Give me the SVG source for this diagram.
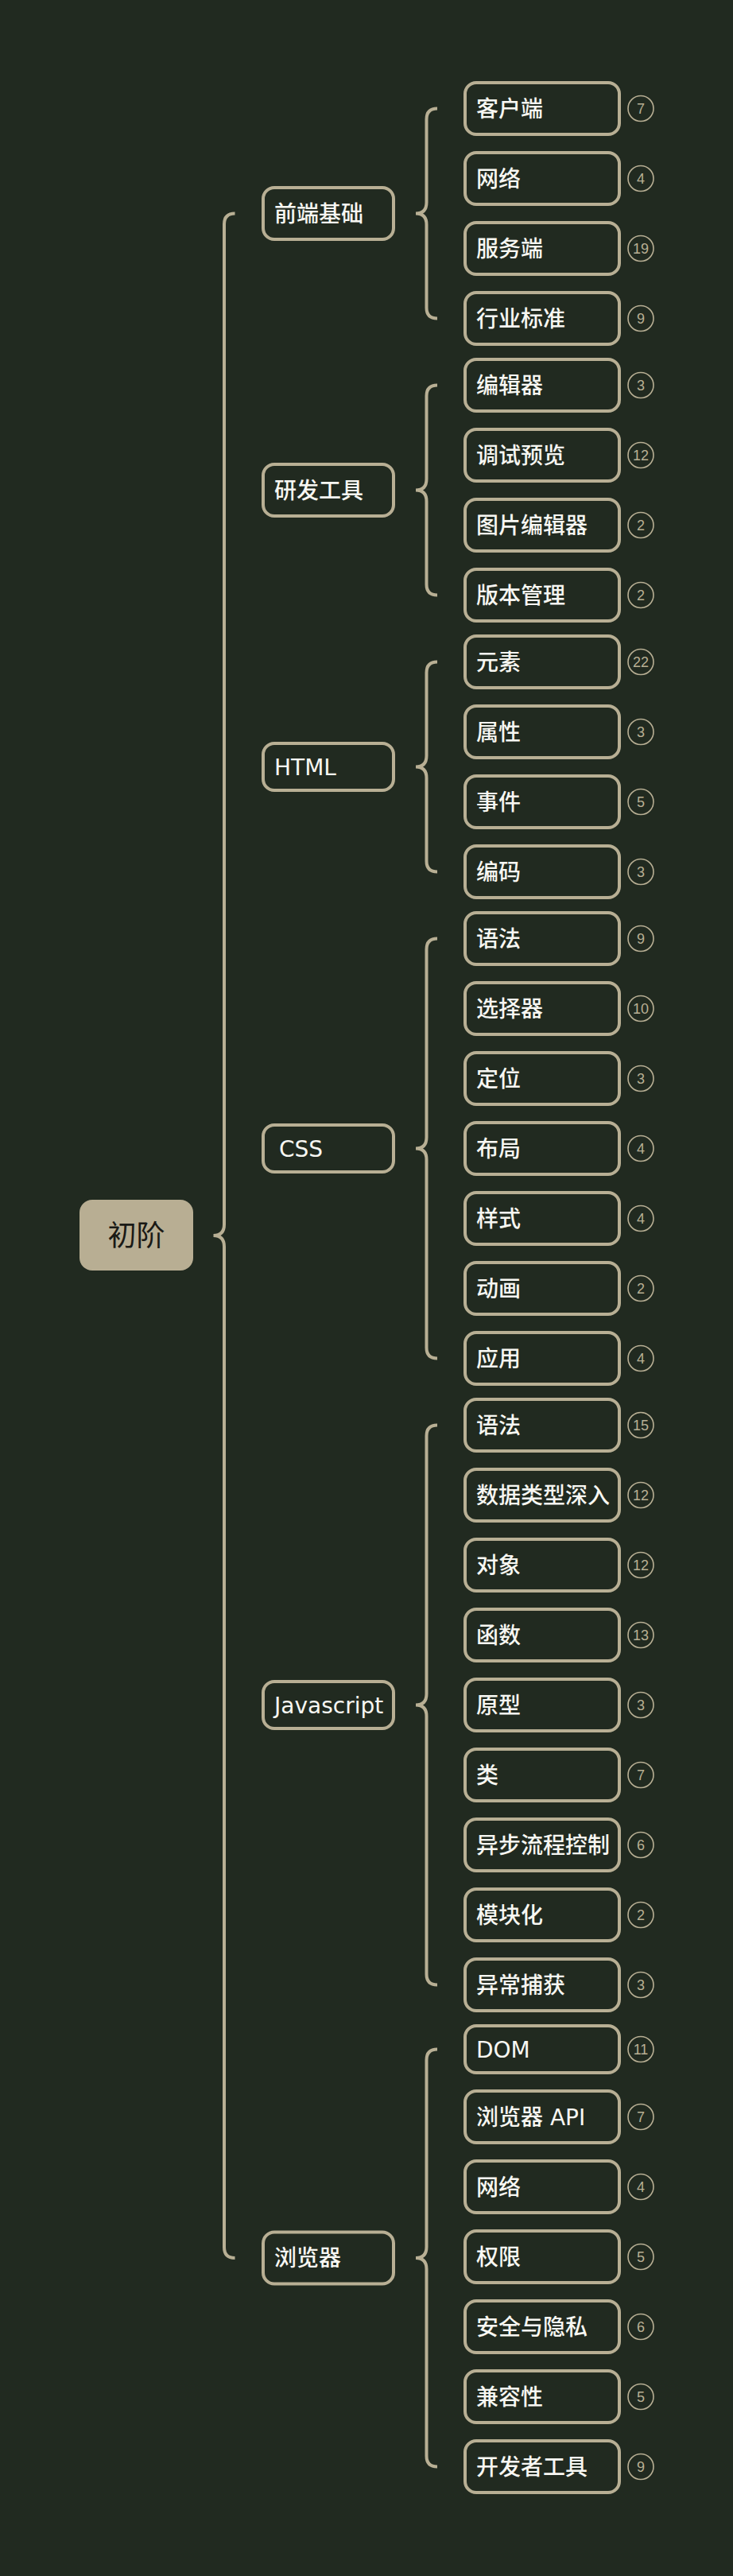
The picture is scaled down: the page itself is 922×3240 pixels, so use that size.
<svg xmlns="http://www.w3.org/2000/svg" width="922" height="3240" viewBox="0 0 922 3240">
<style>
.bg{fill:#212a20}
.box{fill:#212a20;stroke:#b8af94;stroke-width:4}
.br{fill:none;stroke:#b8af94;stroke-width:4;stroke-linecap:butt}
.t{font-family:"DejaVu Sans","Noto Sans CJK SC",sans-serif;font-size:28px;font-weight:500;fill:#f7f7f2}
.cc{fill:none;stroke:#b8af94;stroke-width:1.6}
.n{font-family:"Liberation Sans",Arial,sans-serif;font-size:18px;fill:#b8af94;text-anchor:middle}
.root{fill:#b8ae93}
.rt{font-family:"Noto Sans CJK SC",sans-serif;font-size:36px;fill:#1a1a16;text-anchor:middle}
</style>
<rect class="bg" x="0" y="0" width="922" height="3240"/>
<g id="connectors">
<path class="br" d="M295.5,268.5 Q282,268.5 282,282 L282,1540 Q282,1554 268.5,1554 Q282,1554 282,1568 L282,2826.5 Q282,2840 295.5,2840"/>
<path class="br" d="M550,136.5 Q536.5,136.5 536.5,150 L536.5,254.5 Q536.5,268.5 523,268.5 Q536.5,268.5 536.5,282.5 L536.5,387 Q536.5,400.5 550,400.5"/>
<path class="br" d="M550,484.5 Q536.5,484.5 536.5,498 L536.5,602.5 Q536.5,616.5 523,616.5 Q536.5,616.5 536.5,630.5 L536.5,735 Q536.5,748.5 550,748.5"/>
<path class="br" d="M550,832.5 Q536.5,832.5 536.5,846 L536.5,950.5 Q536.5,964.5 523,964.5 Q536.5,964.5 536.5,978.5 L536.5,1083 Q536.5,1096.5 550,1096.5"/>
<path class="br" d="M550,1180.5 Q536.5,1180.5 536.5,1194 L536.5,1430.5 Q536.5,1444.5 523,1444.5 Q536.5,1444.5 536.5,1458.5 L536.5,1695 Q536.5,1708.5 550,1708.5"/>
<path class="br" d="M550,1792.5 Q536.5,1792.5 536.5,1806 L536.5,2130.5 Q536.5,2144.5 523,2144.5 Q536.5,2144.5 536.5,2158.5 L536.5,2483 Q536.5,2496.5 550,2496.5"/>
<path class="br" d="M550,2577.5 Q536.5,2577.5 536.5,2591 L536.5,2826 Q536.5,2840 523,2840 Q536.5,2840 536.5,2854 L536.5,3089 Q536.5,3102.5 550,3102.5"/>
</g>
<g id="root">
<rect class="root" x="100" y="1509" width="143" height="89" rx="16"/>
<text class="rt" x="171.5" y="1567">初阶</text>
</g>
<g id="cat-qianduan"><rect class="box" x="331" y="236" width="164" height="65" rx="14"/><text class="t" x="345" y="278.5">前端基础</text></g>
<g id="cat-yanfa"><rect class="box" x="331" y="584" width="164" height="65" rx="14"/><text class="t" x="345" y="626.5">研发工具</text></g>
<g id="cat-html"><rect class="box" x="331" y="935" width="164" height="59" rx="14"/><text class="t" x="345" y="974.5">HTML</text></g>
<g id="cat-css"><rect class="box" x="331" y="1415" width="164" height="59" rx="14"/><text class="t" x="351" y="1454.5">CSS</text></g>
<g id="cat-js"><rect class="box" x="331" y="2115" width="164" height="59" rx="14"/><text class="t" x="345" y="2154.5">Javascript</text></g>
<g id="cat-browser"><rect class="box" x="331" y="2807.5" width="164" height="65" rx="14"/><text class="t" x="345" y="2850">浏览器</text></g>
<g id="l1"><rect class="box" x="585" y="104" width="194" height="65" rx="14"/><text class="t" x="599" y="146.5">客户端</text><circle class="cc" cx="806" cy="136.5" r="16"/><text class="n" x="806" y="143">7</text></g>
<g id="l2"><rect class="box" x="585" y="192" width="194" height="65" rx="14"/><text class="t" x="599" y="234.5">网络</text><circle class="cc" cx="806" cy="224.5" r="16"/><text class="n" x="806" y="231">4</text></g>
<g id="l3"><rect class="box" x="585" y="280" width="194" height="65" rx="14"/><text class="t" x="599" y="322.5">服务端</text><circle class="cc" cx="806" cy="312.5" r="16"/><text class="n" x="806" y="319">19</text></g>
<g id="l4"><rect class="box" x="585" y="368" width="194" height="65" rx="14"/><text class="t" x="599" y="410.5">行业标准</text><circle class="cc" cx="806" cy="400.5" r="16"/><text class="n" x="806" y="407">9</text></g>
<g id="l5"><rect class="box" x="585" y="452" width="194" height="65" rx="14"/><text class="t" x="599" y="494.5">编辑器</text><circle class="cc" cx="806" cy="484.5" r="16"/><text class="n" x="806" y="491">3</text></g>
<g id="l6"><rect class="box" x="585" y="540" width="194" height="65" rx="14"/><text class="t" x="599" y="582.5">调试预览</text><circle class="cc" cx="806" cy="572.5" r="16"/><text class="n" x="806" y="579">12</text></g>
<g id="l7"><rect class="box" x="585" y="628" width="194" height="65" rx="14"/><text class="t" x="599" y="670.5">图片编辑器</text><circle class="cc" cx="806" cy="660.5" r="16"/><text class="n" x="806" y="667">2</text></g>
<g id="l8"><rect class="box" x="585" y="716" width="194" height="65" rx="14"/><text class="t" x="599" y="758.5">版本管理</text><circle class="cc" cx="806" cy="748.5" r="16"/><text class="n" x="806" y="755">2</text></g>
<g id="l9"><rect class="box" x="585" y="800" width="194" height="65" rx="14"/><text class="t" x="599" y="842.5">元素</text><circle class="cc" cx="806" cy="832.5" r="16"/><text class="n" x="806" y="839">22</text></g>
<g id="l10"><rect class="box" x="585" y="888" width="194" height="65" rx="14"/><text class="t" x="599" y="930.5">属性</text><circle class="cc" cx="806" cy="920.5" r="16"/><text class="n" x="806" y="927">3</text></g>
<g id="l11"><rect class="box" x="585" y="976" width="194" height="65" rx="14"/><text class="t" x="599" y="1018.5">事件</text><circle class="cc" cx="806" cy="1008.5" r="16"/><text class="n" x="806" y="1015">5</text></g>
<g id="l12"><rect class="box" x="585" y="1064" width="194" height="65" rx="14"/><text class="t" x="599" y="1106.5">编码</text><circle class="cc" cx="806" cy="1096.5" r="16"/><text class="n" x="806" y="1103">3</text></g>
<g id="l13"><rect class="box" x="585" y="1148" width="194" height="65" rx="14"/><text class="t" x="599" y="1190.5">语法</text><circle class="cc" cx="806" cy="1180.5" r="16"/><text class="n" x="806" y="1187">9</text></g>
<g id="l14"><rect class="box" x="585" y="1236" width="194" height="65" rx="14"/><text class="t" x="599" y="1278.5">选择器</text><circle class="cc" cx="806" cy="1268.5" r="16"/><text class="n" x="806" y="1275">10</text></g>
<g id="l15"><rect class="box" x="585" y="1324" width="194" height="65" rx="14"/><text class="t" x="599" y="1366.5">定位</text><circle class="cc" cx="806" cy="1356.5" r="16"/><text class="n" x="806" y="1363">3</text></g>
<g id="l16"><rect class="box" x="585" y="1412" width="194" height="65" rx="14"/><text class="t" x="599" y="1454.5">布局</text><circle class="cc" cx="806" cy="1444.5" r="16"/><text class="n" x="806" y="1451">4</text></g>
<g id="l17"><rect class="box" x="585" y="1500" width="194" height="65" rx="14"/><text class="t" x="599" y="1542.5">样式</text><circle class="cc" cx="806" cy="1532.5" r="16"/><text class="n" x="806" y="1539">4</text></g>
<g id="l18"><rect class="box" x="585" y="1588" width="194" height="65" rx="14"/><text class="t" x="599" y="1630.5">动画</text><circle class="cc" cx="806" cy="1620.5" r="16"/><text class="n" x="806" y="1627">2</text></g>
<g id="l19"><rect class="box" x="585" y="1676" width="194" height="65" rx="14"/><text class="t" x="599" y="1718.5">应用</text><circle class="cc" cx="806" cy="1708.5" r="16"/><text class="n" x="806" y="1715">4</text></g>
<g id="l20"><rect class="box" x="585" y="1760" width="194" height="65" rx="14"/><text class="t" x="599" y="1802.5">语法</text><circle class="cc" cx="806" cy="1792.5" r="16"/><text class="n" x="806" y="1799">15</text></g>
<g id="l21"><rect class="box" x="585" y="1848" width="194" height="65" rx="14"/><text class="t" x="599" y="1890.5">数据类型深入</text><circle class="cc" cx="806" cy="1880.5" r="16"/><text class="n" x="806" y="1887">12</text></g>
<g id="l22"><rect class="box" x="585" y="1936" width="194" height="65" rx="14"/><text class="t" x="599" y="1978.5">对象</text><circle class="cc" cx="806" cy="1968.5" r="16"/><text class="n" x="806" y="1975">12</text></g>
<g id="l23"><rect class="box" x="585" y="2024" width="194" height="65" rx="14"/><text class="t" x="599" y="2066.5">函数</text><circle class="cc" cx="806" cy="2056.5" r="16"/><text class="n" x="806" y="2063">13</text></g>
<g id="l24"><rect class="box" x="585" y="2112" width="194" height="65" rx="14"/><text class="t" x="599" y="2154.5">原型</text><circle class="cc" cx="806" cy="2144.5" r="16"/><text class="n" x="806" y="2151">3</text></g>
<g id="l25"><rect class="box" x="585" y="2200" width="194" height="65" rx="14"/><text class="t" x="599" y="2242.5">类</text><circle class="cc" cx="806" cy="2232.5" r="16"/><text class="n" x="806" y="2239">7</text></g>
<g id="l26"><rect class="box" x="585" y="2288" width="194" height="65" rx="14"/><text class="t" x="599" y="2330.5">异步流程控制</text><circle class="cc" cx="806" cy="2320.5" r="16"/><text class="n" x="806" y="2327">6</text></g>
<g id="l27"><rect class="box" x="585" y="2376" width="194" height="65" rx="14"/><text class="t" x="599" y="2418.5">模块化</text><circle class="cc" cx="806" cy="2408.5" r="16"/><text class="n" x="806" y="2415">2</text></g>
<g id="l28"><rect class="box" x="585" y="2464" width="194" height="65" rx="14"/><text class="t" x="599" y="2506.5">异常捕获</text><circle class="cc" cx="806" cy="2496.5" r="16"/><text class="n" x="806" y="2503">3</text></g>
<g id="l29"><rect class="box" x="585" y="2548" width="194" height="59" rx="14"/><text class="t" x="599" y="2587.5">DOM</text><circle class="cc" cx="806" cy="2577.5" r="16"/><text class="n" x="806" y="2584">11</text></g>
<g id="l30"><rect class="box" x="585" y="2630" width="194" height="65" rx="14"/><text class="t" x="599" y="2672.5">浏览器 API</text><circle class="cc" cx="806" cy="2662.5" r="16"/><text class="n" x="806" y="2669">7</text></g>
<g id="l31"><rect class="box" x="585" y="2718" width="194" height="65" rx="14"/><text class="t" x="599" y="2760.5">网络</text><circle class="cc" cx="806" cy="2750.5" r="16"/><text class="n" x="806" y="2757">4</text></g>
<g id="l32"><rect class="box" x="585" y="2806" width="194" height="65" rx="14"/><text class="t" x="599" y="2848.5">权限</text><circle class="cc" cx="806" cy="2838.5" r="16"/><text class="n" x="806" y="2845">5</text></g>
<g id="l33"><rect class="box" x="585" y="2894" width="194" height="65" rx="14"/><text class="t" x="599" y="2936.5">安全与隐私</text><circle class="cc" cx="806" cy="2926.5" r="16"/><text class="n" x="806" y="2933">6</text></g>
<g id="l34"><rect class="box" x="585" y="2982" width="194" height="65" rx="14"/><text class="t" x="599" y="3024.5">兼容性</text><circle class="cc" cx="806" cy="3014.5" r="16"/><text class="n" x="806" y="3021">5</text></g>
<g id="l35"><rect class="box" x="585" y="3070" width="194" height="65" rx="14"/><text class="t" x="599" y="3112.5">开发者工具</text><circle class="cc" cx="806" cy="3102.5" r="16"/><text class="n" x="806" y="3109">9</text></g>
</svg>
